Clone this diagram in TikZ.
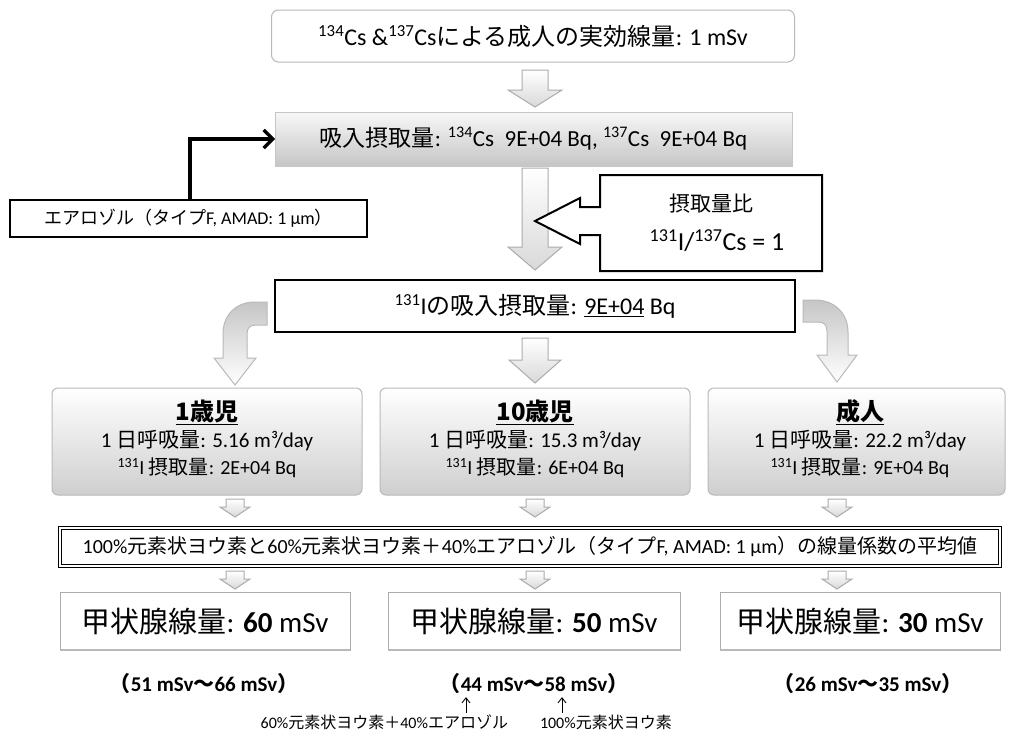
\documentclass[tikz,border=0pt]{standalone}
\usepackage{fontspec}
\setmainfont{Noto Sans CJK JP}
\newfontfamily\lt{Carlito}
\usetikzlibrary{arrows.meta,calc}
\newcommand{\sz}[1]{\fontsize{#1}{#1}\selectfont}
% hollow block arrow pointing down: x, ytop, yhead, ytip, shaft half width, head half width
\newcommand{\bdn}[6]{\draw[blk] (#1-#5,#2) -- (#1+#5,#2) -- (#1+#5,#3) -- (#1+#6,#3) -- (#1,#4) -- (#1-#6,#3) -- (#1-#5,#3) -- cycle;}
\begin{document}
\begin{tikzpicture}[x=1pt,y=-1pt,
  every node/.style={inner sep=0pt, outer sep=0pt},
  rbox/.style={draw=gray!55, line width=1pt, rounded corners=7pt, fill=white},
  gbox/.style={draw=gray!45, line width=1pt, top color=gray!6, bottom color=gray!45},
  bbox/.style={draw=black, line width=2.2pt, fill=white},
  agebox/.style={draw=gray!55, line width=1pt, rounded corners=6pt, top color=white, bottom color=gray!38},
  tbox/.style={draw=gray!65, line width=1pt, fill=white},
  blk/.style={draw=gray!65, line width=1pt, top color=white, bottom color=gray!30},
  crv/.style={draw=gray!55, line width=1pt, top color=gray!45, bottom color=white},
  conn/.style={line width=3.2pt, -{Straight Barb[length=9pt,width=18pt]}},
  uparr/.style={line width=0.9pt, -{Straight Barb[length=5pt,width=8pt]}},
]
\useasboundingbox (0,0) rectangle (1009,731);
\fill[white] (0,0) rectangle (1009,731);

% top box
\node[rbox, minimum width=523pt, minimum height=52pt] (top) at (533,36)
  {\sz{24}{\lt\textsuperscript{134}Cs \&\textsuperscript{137}Cs}による成人の実効線量{\lt : 1 mSv}};
\bdn{535}{70}{90}{107}{13}{27}

% inhalation intake box
\node[gbox, minimum width=517pt, minimum height=54pt] (intake) at (533.5,139)
  {\sz{23}吸入摂取量{\lt : \textsuperscript{134}Cs\ \ 9E+04 Bq, \textsuperscript{137}Cs\ \ 9E+04 Bq}};

% aerosol box and connector
\node[bbox, minimum width=357pt, minimum height=37pt] (aer) at (188.5,218.5)
  {\sz{18}エアロゾル（タイプ{\lt F, AMAD: 1 μm}）};
\coordinate (ax) at (190,0);
\draw[conn] (aer.north -| ax) |- (intake.west);

% big down arrow
\bdn{535}{168}{247}{270}{13}{27}

% ratio callout
\draw[line width=2pt, fill=white] (600,175) -- (822,175) -- (822,271) -- (600,271) -- (600,235) -- (580,235) -- (580,244) -- (535,221) -- (580,198) -- (580,207) -- (600,207) -- cycle;
\node (ratio1) at (711,204) {\sz{21}摂取量比};
\node (ratio2) at (717,241) {\sz{26}{\lt\textsuperscript{131}I/\textsuperscript{137}Cs = 1}};

% I-131 intake box
\node[bbox, minimum width=520pt, minimum height=52pt] (iodine) at (535,306)
  {\sz{24}{\lt\textsuperscript{131}I}の吸入摂取量{\lt : \underline{9E+04} Bq}};

% curved arrows and middle arrow
\draw[crv] (267,302) -- (255,302) .. controls (236,302) and (223,315) .. (223,334) -- (223,358) -- (214,358) -- (235,385) -- (256,358) -- (247,358) -- (247,334) .. controls (247,328) and (250,325) .. (256,325) -- (267,325) -- cycle;
\draw[crv] (803,300) -- (815,300) .. controls (834,300) and (848,313) .. (848,332) -- (848,355) -- (857,355) -- (837,382) -- (817,355) -- (827,355) -- (827,331) .. controls (827,325) and (824,322) .. (818,322) -- (803,322) -- cycle;
\bdn{535}{338}{360}{383}{13}{26}

% age group boxes
\node[agebox, minimum width=310pt, minimum height=107pt] (a1) at (207,441.5) {};
\node[agebox, minimum width=310pt, minimum height=107pt] (a2) at (535,441.5) {};
\node[agebox, minimum width=297pt, minimum height=107pt] (a3) at (856.5,441.5) {};

\node (a1t) at (207,412) {\sz{24}\bfseries\underline{1歳児}};
\node (a1b) at (207,441) {\sz{21}{\lt 1 }日呼吸量{\lt : 5.16 m³/day}};
\node (a1c) at (207,468) {\sz{20}{\lt\textsuperscript{131}I }摂取量{\lt : 2E+04 Bq}};

\node (a2t) at (535,412) {\sz{24}\bfseries\underline{10歳児}};
\node (a2b) at (535,441) {\sz{21}{\lt 1 }日呼吸量{\lt : 15.3 m³/day}};
\node (a2c) at (535,468) {\sz{20}{\lt\textsuperscript{131}I }摂取量{\lt : 6E+04 Bq}};

\node (a3t) at (860,412) {\sz{24}\bfseries\underline{成人}};
\node (a3b) at (860,441) {\sz{21}{\lt 1 }日呼吸量{\lt : 22.2 m³/day}};
\node (a3c) at (860,468) {\sz{20}{\lt\textsuperscript{131}I }摂取量{\lt : 9E+04 Bq}};

% small arrows
\bdn{235}{499}{507}{517}{9}{15}
\bdn{535}{499}{507}{517}{9}{15}
\bdn{837}{499}{507}{517}{9}{15}

% dose coefficient box
\node[draw=black, line width=1.3pt, double=white, double distance=1.6pt, fill=white,
      minimum width=940pt, minimum height=38pt] (coef) at (530,547)
  {\sz{20}{\lt 100\%}元素状ヨウ素と{\lt 60\%}元素状ヨウ素＋{\lt 40\%}エアロゾル（タイプ{\lt F, AMAD: 1 μm}）の線量係数の平均値};

\bdn{235}{571}{579}{589}{9}{15}
\bdn{535}{571}{579}{589}{9}{15}
\bdn{837}{571}{579}{589}{9}{15}

% thyroid dose boxes
\node[tbox, minimum width=290pt, minimum height=58pt] (t1) at (205,621) {\sz{29}甲状腺線量{\lt : \textbf{60} mSv}};
\node[tbox, minimum width=292pt, minimum height=58pt] (t2) at (534,621) {\sz{29}甲状腺線量{\lt : \textbf{50} mSv}};
\node[tbox, minimum width=280pt, minimum height=58pt] (t3) at (860,621) {\sz{29}甲状腺線量{\lt : \textbf{30} mSv}};
\foreach \t in {t1,t2,t3}{\draw[gray!55, line width=2.5pt] (\t.south west) -- (\t.south east);}

% ranges
\node (r1) at (204,684) {\sz{21}\bfseries （{\lt 51 mSv}〜{\lt 66 mSv}）};
\node (r2) at (534,684) {\sz{21}\bfseries （{\lt 44 mSv}〜{\lt 58 mSv}）};
\node (r3) at (868,684) {\sz{21}\bfseries （{\lt 26 mSv}〜{\lt 35 mSv}）};

% bottom notes
\node[anchor=east] (l1) at (508,722) {\sz{16}{\lt 60\%}元素状ヨウ素＋{\lt 40\%}エアロゾル};
\node[anchor=west] (l2) at (540,722) {\sz{16}{\lt 100\%}元素状ヨウ素};
\coordinate (u1) at (466,0);
\coordinate (u2) at (562,0);
\draw[uparr] ([yshift=2pt]l1.north -| u1) -- ([yshift=-3pt]r2.south -| u1);
\draw[uparr] ([yshift=2pt]l2.north -| u2) -- ([yshift=-3pt]r2.south -| u2);
\end{tikzpicture}
\end{document}
